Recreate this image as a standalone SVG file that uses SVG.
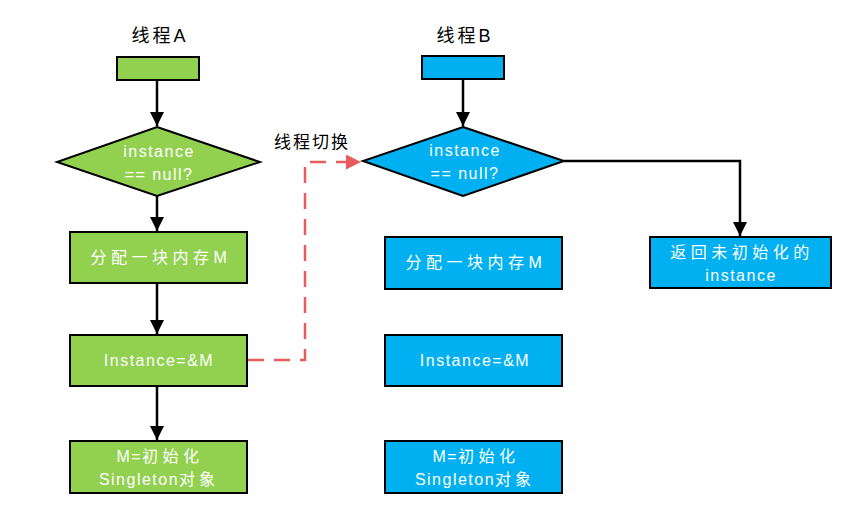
<svg xmlns="http://www.w3.org/2000/svg" width="858" height="508" viewBox="0 0 858 508">
<style>
.g{fill:#92D050;stroke:#000;stroke-width:2}
.b{fill:#00B0F0;stroke:#000;stroke-width:2}
.t{font-family:"Liberation Sans","Noto Sans CJK SC",sans-serif;font-size:16px;fill:#fff;text-anchor:middle;letter-spacing:1.5px}
.z{letter-spacing:4.5px}
.h{font-family:"Liberation Sans","Noto Sans CJK SC",sans-serif;font-size:18px;fill:#000;text-anchor:middle;letter-spacing:3px}
.c{fill:none;stroke:#000;stroke-width:2.5}
</style>
<defs>
<marker id="ah" viewBox="0 0 10 10" refX="10" refY="5" markerWidth="5.6" markerHeight="5.6" markerUnits="strokeWidth" orient="auto"><path d="M0,0L10,5L0,10z" fill="#000"/></marker>
<marker id="ar" viewBox="0 0 10 10" refX="10" refY="5" markerWidth="6" markerHeight="6" markerUnits="strokeWidth" orient="auto"><path d="M0,0L10,5L0,10z" fill="#E85C5C"/></marker>
</defs>
<text class="h" x="160" y="42">线程A</text>
<text class="h" x="465" y="42">线程B</text>
<text class="h" x="312" y="148" style="font-size:17px;letter-spacing:2px">线程切换</text>
<g id="connectors">
<path class="c" d="M157,80V126" marker-end="url(#ah)"/>
<path class="c" d="M157,196V231" marker-end="url(#ah)"/>
<path class="c" d="M157,283V334" marker-end="url(#ah)"/>
<path class="c" d="M157,386V440" marker-end="url(#ah)"/>
<path class="c" d="M463,79V126" marker-end="url(#ah)"/>
<path class="c" d="M564,161H740V236" marker-end="url(#ah)"/>
<path d="M248,360H305V162H361" fill="none" stroke="#E85C5C" stroke-width="2.5" stroke-dasharray="16,10" marker-end="url(#ar)"/>
</g>
<g id="startA"><rect class="g" x="117" y="57" width="82" height="23"/></g>
<g id="decisionA"><polygon class="g" points="157,127 260,162 157,196 57,162"/><text class="t" x="159" y="157">instance</text><text class="t" x="159" y="180">== null?</text></g>
<g id="allocA"><rect class="g" x="70" y="232" width="177" height="51"/><text class="t z" x="161" y="263">分配一块内存M</text></g>
<g id="assignA"><rect class="g" x="70" y="335" width="177" height="51"/><text class="t" x="159" y="366">Instance=&amp;M</text></g>
<g id="initA"><rect class="g" x="70" y="441" width="177" height="52"/><text class="t" x="160" y="462">M=<tspan style="letter-spacing:4.5px">初始化</tspan></text><text class="t" x="159" y="485">Singleton<tspan style="letter-spacing:4px">对象</tspan></text></g>
<g id="startB"><rect class="b" x="422" y="56" width="82" height="23"/></g>
<g id="decisionB"><polygon class="b" points="463,127 564,161 463,196 363,161"/><text class="t" x="465" y="156">instance</text><text class="t" x="465" y="179">== null?</text></g>
<g id="allocB"><rect class="b" x="385" y="237" width="177" height="52"/><text class="t z" x="476" y="268">分配一块内存M</text></g>
<g id="assignB"><rect class="b" x="385" y="335" width="177" height="51"/><text class="t" x="475" y="366">Instance=&amp;M</text></g>
<g id="initB"><rect class="b" x="385" y="441" width="177" height="52"/><text class="t" x="476" y="462">M=<tspan style="letter-spacing:4.5px">初始化</tspan></text><text class="t" x="475" y="485">Singleton<tspan style="letter-spacing:4px">对象</tspan></text></g>
<g id="returnB"><rect class="b" x="650" y="237" width="181" height="51"/><text class="t z" x="742" y="258">返回未初始化的</text><text class="t" x="741" y="281">instance</text></g>
</svg>
